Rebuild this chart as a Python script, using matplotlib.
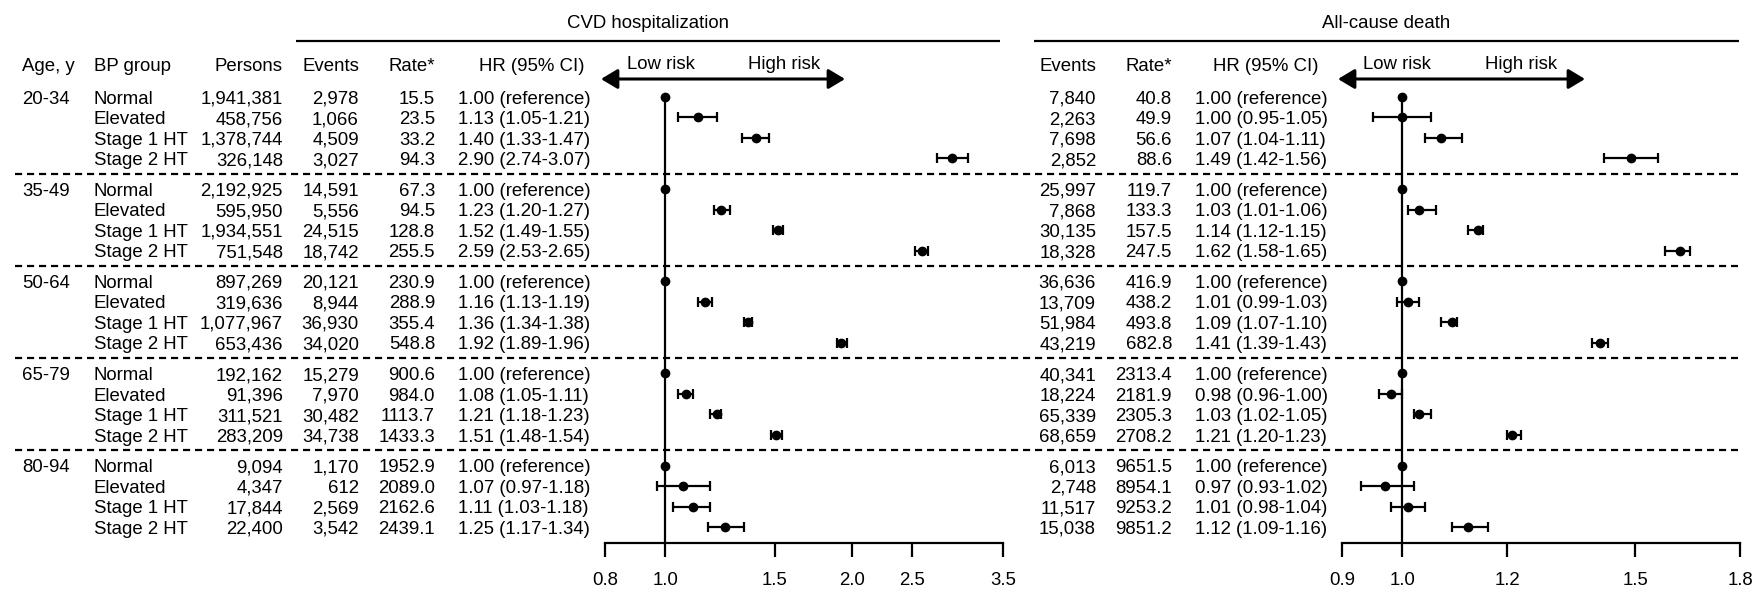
import numpy as np
import matplotlib
matplotlib.use("Agg")
import matplotlib.pyplot as plt
import matplotlib.ticker as mticker
from matplotlib import font_manager as fm

# ---------------- data ----------------
age_groups = ["20-34", "35-49", "50-64", "65-79", "80-94"]
bp_groups = ["Normal", "Elevated", "Stage 1 HT", "Stage 2 HT"]

persons = [1941381, 458756, 1378744, 326148,
           2192925, 595950, 1934551, 751548,
           897269, 319636, 1077967, 653436,
           192162, 91396, 311521, 283209,
           9094, 4347, 17844, 22400]

cvd_events = [2978, 1066, 4509, 3027,
              14591, 5556, 24515, 18742,
              20121, 8944, 36930, 34020,
              15279, 7970, 30482, 34738,
              1170, 612, 2569, 3542]
cvd_rate = [15.5, 23.5, 33.2, 94.3,
            67.3, 94.5, 128.8, 255.5,
            230.9, 288.9, 355.4, 548.8,
            900.6, 984.0, 1113.7, 1433.3,
            1952.9, 2089.0, 2162.6, 2439.1]
cvd_hr = [1.00, 1.13, 1.40, 2.90,
          1.00, 1.23, 1.52, 2.59,
          1.00, 1.16, 1.36, 1.92,
          1.00, 1.08, 1.21, 1.51,
          1.00, 1.07, 1.11, 1.25]
cvd_lo = [np.nan, 1.05, 1.33, 2.74,
          np.nan, 1.20, 1.49, 2.53,
          np.nan, 1.13, 1.34, 1.89,
          np.nan, 1.05, 1.18, 1.48,
          np.nan, 0.97, 1.03, 1.17]
cvd_hi = [np.nan, 1.21, 1.47, 3.07,
          np.nan, 1.27, 1.55, 2.65,
          np.nan, 1.19, 1.38, 1.96,
          np.nan, 1.11, 1.23, 1.54,
          np.nan, 1.18, 1.18, 1.34]

death_events = [7840, 2263, 7698, 2852,
                25997, 7868, 30135, 18328,
                36636, 13709, 51984, 43219,
                40341, 18224, 65339, 68659,
                6013, 2748, 11517, 15038]
death_rate = [40.8, 49.9, 56.6, 88.6,
              119.7, 133.3, 157.5, 247.5,
              416.9, 438.2, 493.8, 682.8,
              2313.4, 2181.9, 2305.3, 2708.2,
              9651.5, 8954.1, 9253.2, 9851.2]
death_hr = [1.00, 1.00, 1.07, 1.49,
            1.00, 1.03, 1.14, 1.62,
            1.00, 1.01, 1.09, 1.41,
            1.00, 0.98, 1.03, 1.21,
            1.00, 0.97, 1.01, 1.12]
death_lo = [np.nan, 0.95, 1.04, 1.42,
            np.nan, 1.01, 1.12, 1.58,
            np.nan, 0.99, 1.07, 1.39,
            np.nan, 0.96, 1.02, 1.20,
            np.nan, 0.93, 0.98, 1.09]
death_hi = [np.nan, 1.05, 1.11, 1.56,
            np.nan, 1.06, 1.15, 1.65,
            np.nan, 1.03, 1.10, 1.43,
            np.nan, 1.00, 1.05, 1.23,
            np.nan, 1.02, 1.04, 1.16]

cvd_ticks = [0.8, 1.0, 1.5, 2.0, 2.5, 3.5]
death_ticks = [0.9, 1.0, 1.2, 1.5, 1.8]

# ---------------- fonts ----------------
def has_font(name):
    try:
        fm.findfont(fm.FontProperties(family=name), fallback_to_default=False)
        return True
    except Exception:
        return False

if has_font("Liberation Sans Narrow"):
    FONT, FS = "Liberation Sans Narrow", 15.5
else:
    FONT, FS = "Liberation Sans", 13.4
plt.rcParams["font.family"] = [FONT, "DejaVu Sans"]

# ---------------- layout ----------------
W, H = 1765, 596
ROW_Y0, ROW_H = 97, 20.48
AXIS_Y = 543

def row_y(i):
    g, r = divmod(i, 4)
    return ROW_Y0 + ROW_H * (g * 4.5 + r)

cap_half = 0.716 * FS * 100 / 72 / 2

fig = plt.figure(figsize=(W / 100, H / 100), dpi=100)
bg = fig.add_axes([0, 0, 1, 1])
bg.set_xlim(0, W)
bg.set_ylim(H, 0)
bg.axis("off")

def txt(x, y, s, ha="left"):
    bg.text(x, y + cap_half, s, ha=ha, va="baseline", fontsize=FS, color="black")

# titles and header rules
bg.text(648, 28, "CVD hospitalization", ha="center", va="baseline", fontsize=FS)
bg.text(1386, 28, "All-cause death", ha="center", va="baseline", fontsize=FS)
bg.plot([296, 1000], [41, 41], color="black", lw=1.6, solid_capstyle="butt")
bg.plot([1034, 1739], [41, 41], color="black", lw=1.6, solid_capstyle="butt")

# column headers
HDR = 64
txt(22, HDR, "Age, y")
txt(94, HDR, "BP group")
txt(283, HDR, "Persons", "right")
txt(359, HDR, "Events", "right")
txt(435, HDR, "Rate*", "right")
txt(585, HDR, "HR (95% CI)", "right")
txt(1096, HDR, "Events", "right")
txt(1172, HDR, "Rate*", "right")
txt(1319, HDR, "HR (95% CI)", "right")

# risk arrows
for (xl, xr, cl, ch) in [(601, 845, 661, 784), (1338, 1585, 1397, 1521)]:
    txt(cl, 62, "Low risk", "center")
    txt(ch, 62, "High risk", "center")
    bg.annotate("", xy=(xr, 79), xytext=(xl, 79),
                arrowprops=dict(arrowstyle="<|-|>,head_length=0.5,head_width=0.3",
                                color="black", lw=2.2, shrinkA=0, shrinkB=0,
                                mutation_scale=20))

def hr_text(h, lo, hi):
    if np.isnan(lo):
        return f"{h:.2f} (reference)"
    return f"{h:.2f} ({lo:.2f}-{hi:.2f})"

# table rows
for i in range(len(persons)):
    y = row_y(i)
    g, r = divmod(i, 4)
    if r == 0:
        txt(22, y, age_groups[g])
    txt(94, y, bp_groups[r])
    txt(283, y, f"{persons[i]:,}", "right")
    txt(359, y, f"{cvd_events[i]:,}", "right")
    txt(435, y, f"{cvd_rate[i]:.1f}", "right")
    txt(458, y, hr_text(cvd_hr[i], cvd_lo[i], cvd_hi[i]))
    txt(1096, y, f"{death_events[i]:,}", "right")
    txt(1172, y, f"{death_rate[i]:.1f}", "right")
    txt(1195, y, hr_text(death_hr[i], death_lo[i], death_hi[i]))

# dashed group separators
for g in range(1, len(age_groups)):
    ys = ROW_Y0 + ROW_H * (g * 4.5 - 0.75)
    bg.plot([15, 1738], [ys, ys], color="black", lw=1.6, dashes=(3.2, 2.2))

# ---------------- forest panels ----------------
def forest(x0, x1, xlo, xhi, ticks, hr, lo, hi):
    ax = fig.add_axes([x0 / W, (H - AXIS_Y) / H, (x1 - x0) / W, AXIS_Y / H])
    ax.set_xscale("log")
    ax.set_xlim(xlo, xhi)
    ax.set_ylim(AXIS_Y, 0)
    ax.patch.set_alpha(0)
    for s in ["top", "right", "left"]:
        ax.spines[s].set_visible(False)
    ax.spines["bottom"].set_linewidth(1.6)
    ax.set_yticks([])
    ax.xaxis.set_major_locator(mticker.FixedLocator(ticks))
    ax.xaxis.set_minor_locator(mticker.NullLocator())
    ax.xaxis.set_major_formatter(mticker.FixedFormatter([f"{t:.1f}" for t in ticks]))
    ax.tick_params(axis="x", length=10, width=1.6, pad=11, labelsize=FS, direction="out")
    ax.vlines(1.0, row_y(0), AXIS_Y, color="black", lw=1.6)
    for i in range(len(hr)):
        y = row_y(i)
        if np.isnan(lo[i]):
            ax.plot([hr[i]], [y], "o", color="black", ms=6, clip_on=False)
        else:
            ax.errorbar([hr[i]], [y], xerr=[[hr[i] - lo[i]], [hi[i] - hr[i]]],
                        fmt="o", color="black", ms=6, capsize=3.8,
                        elinewidth=1.6, capthick=1.6, clip_on=False)
    return ax

forest(605, 1003, 0.8, 3.5, cvd_ticks, cvd_hr, cvd_lo, cvd_hi)
forest(1342, 1740, 0.9, 1.8, death_ticks, death_hr, death_lo, death_hi)

fig.savefig("out.png", dpi=100, facecolor="white")
